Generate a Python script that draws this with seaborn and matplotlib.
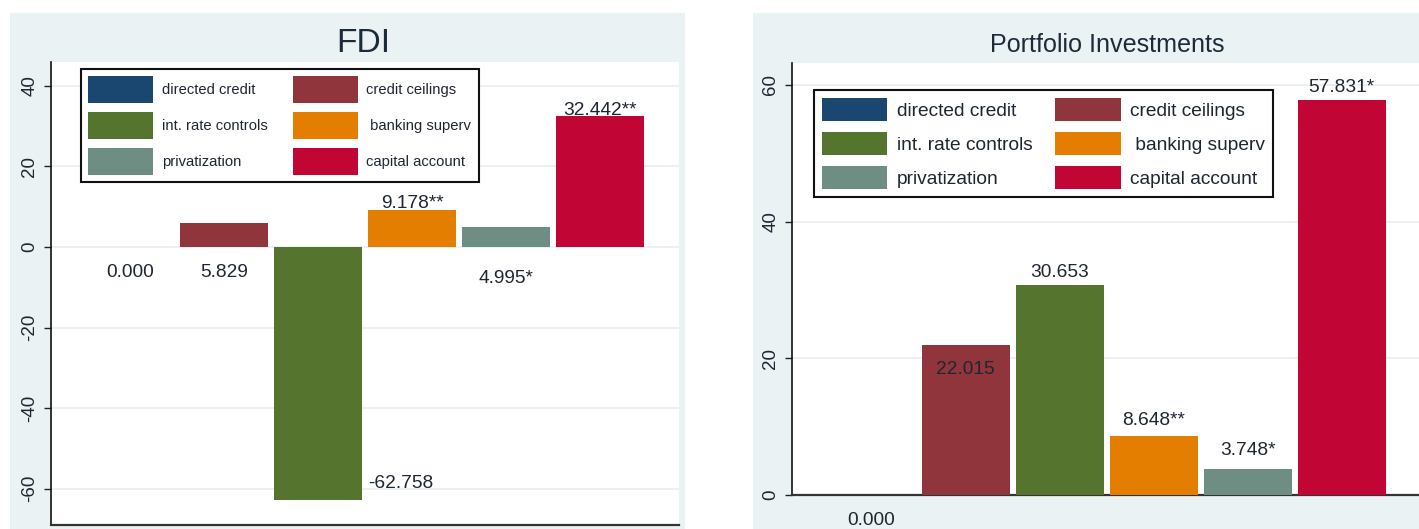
import matplotlib
matplotlib.use("Agg")
import matplotlib.pyplot as plt
from matplotlib import font_manager
from matplotlib.patches import Patch, Rectangle
import seaborn as sns
import pandas as pd

# ---------------- data ----------------
categories = ["directed credit", "credit ceilings", "int. rate controls",
              "banking superv", "privatization", "capital account"]
legend_labels = ["directed credit", "credit ceilings", "int. rate controls",
                 " banking superv", "privatization", "capital account"]
fdi_values = [0.000, 5.829, -62.758, 9.178, 4.995, 32.442]
fdi_stars = ["", "", "", "**", "*", "**"]
pi_values = [0.000, 22.015, 30.653, 8.648, 3.748, 57.831]
pi_stars = ["", "", "", "**", "*", "*"]
colors = ["#1a476f", "#90353b", "#55752f", "#e37e00", "#6e8e84", "#c10534"]
fdi_yticks = [-60, -40, -20, 0, 20, 40]
pi_yticks = [0, 20, 40, 60]
titles = ["FDI", "Portfolio Investments"]

# ---------------- style ----------------
sns.set_style("white")


def has_font(name):
    try:
        font_manager.findfont(font_manager.FontProperties(family=name),
                              fallback_to_default=False)
        return True
    except Exception:
        return False


NARROW_OK = has_font("Liberation Sans Narrow")
NARROW = "Liberation Sans Narrow" if NARROW_OK else "Liberation Sans"
K = 1.0 if NARROW_OK else 0.86
plt.rcParams["font.family"] = ["Liberation Sans", "DejaVu Sans"]

W, H = 1419, 529
fig = plt.figure(figsize=(W / 100, H / 100), dpi=100, facecolor="white")

PANEL_BG = "#eaf2f3"
GRID = "#e8eff1"
TEXT = "#1e2632"
BAR_W = 0.936


def fx(px):
    return px / W


def fy(py):
    return 1 - py / H


def pt(px):
    return px * 72 / 100


# panel backgrounds
fig.patches.append(Rectangle((fx(10), 0), fx(685) - fx(10), fy(13), transform=fig.transFigure,
                             facecolor=PANEL_BG, edgecolor="none", zorder=-10))
fig.patches.append(Rectangle((fx(753), 0), 1 - fx(753), fy(13), transform=fig.transFigure,
                             facecolor=PANEL_BG, edgecolor="none", zorder=-10))

panels = [
    dict(values=fdi_values, stars=fdi_stars, yticks=fdi_yticks, title=titles[0],
         box=(50.7, 62, 679, 525), xlim=(-0.844, 5.84), ylim=(-69.0, 45.9),
         title_xy=(363, 52), title_size=28,
         leg_xy=(81, 69), leg_size=12.4, leg_hl=3.76, leg_hh=2.05, leg_ls=0.62,
         leg_tp=0.58, leg_cs=1.73, leg_bp=0.5,
         place=[("base", -30), ("base", -30), ("end_right", 12), ("value", 2),
                ("base", -36), ("value", 1.5)],
         label_size=16),
    dict(values=pi_values, stars=pi_stars, yticks=pi_yticks, title=titles[1],
         box=(792, 63, 1420.5, 495), xlim=(-0.846, 5.84), ylim=(0, 63.2),
         title_xy=(1107, 52), title_size=21,
         leg_xy=(814, 90), leg_size=16, leg_hl=2.96, leg_hh=1.3, leg_ls=0.55,
         leg_tp=0.5, leg_cs=1.17, leg_bp=0.4,
         place=[("base", -30), ("value", -29), ("value", 8), ("value", 10.7),
                ("value", 14), ("value", 8)],
         label_size=16),
]

order = [0, 2, 4, 1, 3, 5]

for p in panels:
    x0, y0, x1, y1 = p["box"]
    ax = fig.add_axes([fx(x0), fy(y1), fx(x1) - fx(x0), fy(y0) - fy(y1)])
    ax.set_facecolor("white")
    df = pd.DataFrame({"cat": categories, "val": p["values"]})
    sns.barplot(data=df, x="cat", y="val", hue="cat", order=categories,
                hue_order=categories, palette=colors, saturation=1,
                width=BAR_W, dodge=False, legend=False, ax=ax,
                linewidth=0, zorder=3)
    ax.set_xlim(*p["xlim"])
    ax.set_ylim(*p["ylim"])
    ax.set_xlabel("")
    ax.set_ylabel("")
    ax.set_xticks([])
    ax.set_yticks(p["yticks"])
    ax.set_yticklabels([str(t) for t in p["yticks"]])
    ax.tick_params(axis="y", length=5, width=1, color="#222222", labelsize=13.5,
                   pad=4.0, labelcolor=TEXT, labelrotation=90, left=True)
    for t in ax.get_yticklabels():
        t.set_va("center")
    ax.yaxis.grid(True, color=GRID, linewidth=1.2, zorder=0)
    ax.set_axisbelow(True)
    for s in ["top", "right"]:
        ax.spines[s].set_visible(False)
    ax.spines["left"].set_color("#111111")
    ax.spines["left"].set_linewidth(1.2)
    ax.spines["bottom"].set_color("#333333")
    ax.spines["bottom"].set_linewidth(1.6)

    # value labels
    for i, (v, s) in enumerate(zip(p["values"], p["stars"])):
        mode, dy = p["place"][i]
        txt = f"{v:.3f}{s}"
        if mode == "base":
            xy, dx, ha = (i, 0), 0, "center"
        elif mode == "value":
            xy, dx, ha = (i, v), 0, "center"
        else:
            xy, dx, ha = (i + BAR_W / 2, v), 6, "left"
        ax.annotate(txt, xy=xy, xytext=(pt(dx), pt(dy)), textcoords="offset points",
                    ha=ha, va="baseline", fontsize=p["label_size"] * K,
                    family=[NARROW, "DejaVu Sans"], color=TEXT,
                    annotation_clip=False, zorder=5)

    # legend
    handles = [Patch(facecolor=c, edgecolor="none") for c in colors]
    hs = [handles[j] for j in order]
    ls = [legend_labels[j] for j in order]
    leg = ax.legend(hs, ls, ncol=2, loc="upper left",
                    bbox_to_anchor=(fx(p["leg_xy"][0]), fy(p["leg_xy"][1])),
                    bbox_transform=fig.transFigure, borderaxespad=0,
                    frameon=True, fancybox=False, shadow=False,
                    prop=dict(family=[NARROW, "DejaVu Sans"], size=p["leg_size"] * K),
                    handlelength=p["leg_hl"] / K, handleheight=p["leg_hh"] / K,
                    labelspacing=p["leg_ls"], handletextpad=p["leg_tp"],
                    columnspacing=p["leg_cs"], borderpad=p["leg_bp"])
    leg.get_frame().set_edgecolor("#111111")
    leg.get_frame().set_linewidth(1.5)
    leg.get_frame().set_facecolor("white")
    leg.get_frame().set_alpha(1)
    for t in leg.get_texts():
        t.set_color(TEXT)
    leg.set_zorder(10)

    # title
    fig.text(fx(p["title_xy"][0]), fy(p["title_xy"][1]), p["title"],
             ha="center", va="baseline", fontsize=p["title_size"] * K,
             family=[NARROW, "DejaVu Sans"], color="#1c2a3a")

fig.savefig("out.png", dpi=100, facecolor="white")
